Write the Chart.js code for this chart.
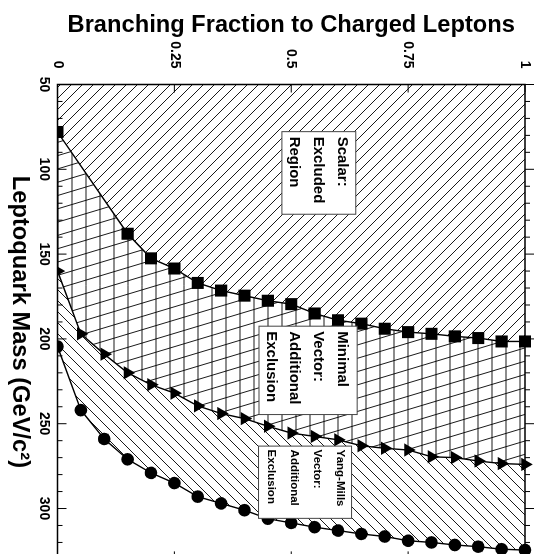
<!DOCTYPE html>
<html>
<head>
<meta charset="utf-8">
<script src="https://cdn.jsdelivr.net/npm/chart.js@4/dist/chart.umd.min.js"></script>
<style>
  html, body { margin: 0; padding: 0; background: #fff; overflow: hidden; }
  /* the figure is drawn lying on its side, then turned a quarter turn */
  #wrap { position: absolute; left: 0; top: 0; width: 570px; height: 537px;
          transform-origin: 0 0; transform: translate(537px, 0) rotate(90deg); }
</style>
</head>
<body>
<div id="wrap"><canvas id="chart" width="570" height="537"></canvas></div>
<script>
"use strict";

// scalar leptoquarks: excluded mass vs branching fraction
const bfScalar = [0, 0.15, 0.2, 0.25, 0.3, 0.35, 0.4, 0.45, 0.5, 0.55, 0.6, 0.65, 0.7, 0.75, 0.8, 0.85, 0.9, 0.95, 1.0];
const massScalar = [78, 138, 152.5, 158.5, 167, 171.5, 174.5, 177.5, 179.5, 185, 189, 191, 194, 196, 197, 198.5, 199.5, 201.5, 201.5];

// vector leptoquarks (minimal and Yang-Mills couplings)
const bfVector = [0, 0.05, 0.1, 0.15, 0.2, 0.25, 0.3, 0.35, 0.4, 0.45, 0.5, 0.55, 0.6, 0.65, 0.7, 0.75, 0.8, 0.85, 0.9, 0.95, 1.0];
const massMinimal = [160, 197, 209, 220, 227, 232, 239.5, 244, 247, 251.5, 255.5, 257.5, 259.5, 263, 264.5, 265.5, 269.5, 270, 272, 273.5, 274];
const massYangMills = [204.5, 242, 259, 271, 279, 285, 293, 297, 301, 306, 308.5, 311, 313, 315, 316.5, 319, 320, 321.5, 322.5, 324, 324.5];

// axis ticks
const massTicks = [50, 100, 150, 200, 250, 300];
const bfTicks = [0, 0.25, 0.5, 0.75, 1];

const FONT = "'Liberation Sans', Arial, Helvetica, sans-serif";
const W = 570, H = 537;

const canvas = document.getElementById("chart");
const ctx = canvas.getContext("2d");

/**
 * Builds a full size hatch image, drawn in page orientation
 * (so the line angles match the turned figure).
 */
function hatch(drawLines) {
    const c = document.createElement("canvas");
    c.width = W;
    c.height = H;
    const g = c.getContext("2d");
    g.fillStyle = "#fff";
    g.fillRect(0, 0, W, H);
    g.setTransform(0, -1, 1, 0, 0, H);
    g.strokeStyle = "#000";
    g.lineWidth = 0.9;
    g.beginPath();
    drawLines(g);
    g.stroke();
    return ctx.createPattern(c, "no-repeat");
}

const hatchScalar = hatch(function (g) {
    for (let k = -20; k < 1200; k += 11) {
        g.moveTo(k, 0);
        g.lineTo(k - 650, 650);
    }
});
const hatchMinimal = hatch(function (g) {
    for (let k = 2; k < 560; k += 14) {
        g.moveTo(k, 0);
        g.lineTo(k, 650);
    }
    for (let k = 0; k < 900; k += 13.3) {
        g.moveTo(0, k);
        g.lineTo(560, k - 168);
    }
});
const hatchYangMills = hatch(function (g) {
    for (let k = -650; k < 560; k += 11) {
        g.moveTo(k, 0);
        g.lineTo(k + 650, 650);
    }
});

// text boxes, placed in data units
const notes = [
    { lines: ["Scalar:", "Excluded", "Region"], mass: [77.8, 126.5], bf: [0.480, 0.638], size: 15, first: 18, step: 24, pad: 5 },
    { lines: ["Minimal", "Vector:", "Additional", "Exclusion"], mass: [192.5, 244.6], bf: [0.431, 0.641], size: 15, first: 19.5, step: 23.6, pad: 5 },
    { lines: ["Yang-Mills", "Vector:", "Additional", "Exclusion"], mass: [263.2, 305.8], bf: [0.430, 0.629], size: 11.5, first: 15, step: 23, pad: 3.5 }
];

// fills each excluded region: from the curve back to the lowest mass
const region = {
    id: "region",
    beforeDatasetDraw: function (chart, args) {
        const ds = chart.data.datasets[args.index];
        const pts = args.meta.data;
        if (!ds.hatch || !pts.length) {
            return;
        }
        const c = chart.ctx;
        const a = chart.chartArea;
        c.save();
        c.beginPath();
        c.rect(a.left, a.top, a.right - a.left, a.bottom - a.top);
        c.clip();
        c.beginPath();
        c.moveTo(a.left, pts[0].y);
        pts.forEach(function (p) { c.lineTo(p.x, p.y); });
        c.lineTo(a.left, pts[pts.length - 1].y);
        c.closePath();
        c.fillStyle = ds.hatch;
        c.fill();
        c.restore();
    }
};

const frame = {
    id: "frame",
    afterDatasetsDraw: function (chart) {
        const c = chart.ctx;
        const a = chart.chartArea;
        const x = chart.scales.x;
        const y = chart.scales.y;
        c.save();
        c.strokeStyle = "#000";
        c.lineWidth = 1;
        c.beginPath();
        for (let m = x.min; m <= x.max; m += 10) {
            const px = x.getPixelForValue(m);
            const len = m % 50 === 0 ? 9 : 5;
            c.moveTo(px, a.bottom);
            c.lineTo(px, a.bottom - len);
            c.moveTo(px, a.top);
            c.lineTo(px, a.top - len);
        }
        bfTicks.forEach(function (v) {
            const py = y.getPixelForValue(v);
            c.moveTo(a.left, py);
            c.lineTo(a.left + 8, py);
            c.moveTo(a.right, py);
            c.lineTo(a.right - 8, py);
        });
        c.stroke();
        c.lineWidth = 1.5;
        c.strokeRect(a.left, a.top, a.right - a.left, a.bottom - a.top);

        notes.forEach(function (n) {
            const l = x.getPixelForValue(n.mass[0]);
            const r = x.getPixelForValue(n.mass[1]);
            const t = y.getPixelForValue(n.bf[1]);
            const b = y.getPixelForValue(n.bf[0]);
            c.fillStyle = "#fff";
            c.fillRect(l, t, r - l, b - t);
            c.strokeStyle = "#444";
            c.lineWidth = 1;
            c.strokeRect(l, t, r - l, b - t);
            c.fillStyle = "#000";
            c.font = "bold " + n.size + "px " + FONT;
            c.textAlign = "left";
            c.textBaseline = "alphabetic";
            n.lines.forEach(function (s, i) {
                c.fillText(s, l + n.pad, t + n.first + i * n.step);
            });
        });
        c.restore();
    }
};

function points(masses, fractions) {
    return fractions.map(function (b, i) { return { x: masses[i], y: b }; });
}

function series(label, masses, fractions, style, radius, pattern) {
    return {
        label: label,
        data: points(masses, fractions),
        hatch: pattern,
        borderColor: "#000",
        borderWidth: 1.4,
        pointStyle: style,
        pointRadius: radius,
        pointBackgroundColor: "#000",
        pointBorderWidth: 0,
        fill: false,
        tension: 0,
        clip: { left: 0, top: 12, right: 0, bottom: 0 }
    };
}

const tickFont = { family: FONT, size: 14, weight: "bold" };
const titleFont = { family: FONT, size: 23.7, weight: "bold" };

new Chart(ctx, {
    type: "line",
    data: {
        datasets: [
            series("Scalar", massScalar, bfScalar, "rect", 8.5, hatchScalar),
            series("Minimal Vector", massMinimal, bfVector, "triangle", 7.7, hatchMinimal),
            series("Yang-Mills Vector", massYangMills, bfVector, "circle", 6.3, hatchYangMills)
        ]
    },
    options: {
        indexAxis: "y",
        responsive: false,
        animation: false,
        devicePixelRatio: 1,
        layout: { padding: { top: 12, right: 10.6, left: 0, bottom: 0 } },
        plugins: { legend: { display: false }, tooltip: { enabled: false } },
        scales: {
            x: {
                type: "linear",
                position: "bottom",
                min: 50,
                max: 330,
                afterBuildTicks: function (s) { s.ticks = massTicks.map(function (v) { return { value: v }; }); },
                afterFit: function (s) { s.height = 57.5; s.paddingLeft = 0; s.paddingRight = 0; },
                grid: { display: false, drawTicks: false },
                border: { display: false },
                ticks: { font: tickFont, color: "#000", padding: 5, maxRotation: 0, autoSkip: false,
                         callback: function (v) { return String(v); } },
                title: { display: true, text: "Leptoquark Mass (GeV/c\u00b2)", font: titleFont, color: "#000", padding: { top: 0, bottom: 5 } }
            },
            y: {
                type: "linear",
                position: "left",
                min: 0,
                max: 1,
                afterBuildTicks: function (s) { s.ticks = bfTicks.map(function (v) { return { value: v }; }); },
                afterFit: function (s) { s.width = 84.5; s.paddingTop = 0; s.paddingBottom = 0; },
                grid: { display: false, drawTicks: false },
                border: { display: false },
                ticks: { font: tickFont, color: "#000", padding: 16, callback: function (v) { return String(v); } },
                title: { display: true, text: "Branching Fraction to Charged Leptons", font: titleFont, color: "#000", padding: { top: 10.8, bottom: 0 } }
            }
        }
    },
    plugins: [region, frame]
});
</script>
</body>
</html>
